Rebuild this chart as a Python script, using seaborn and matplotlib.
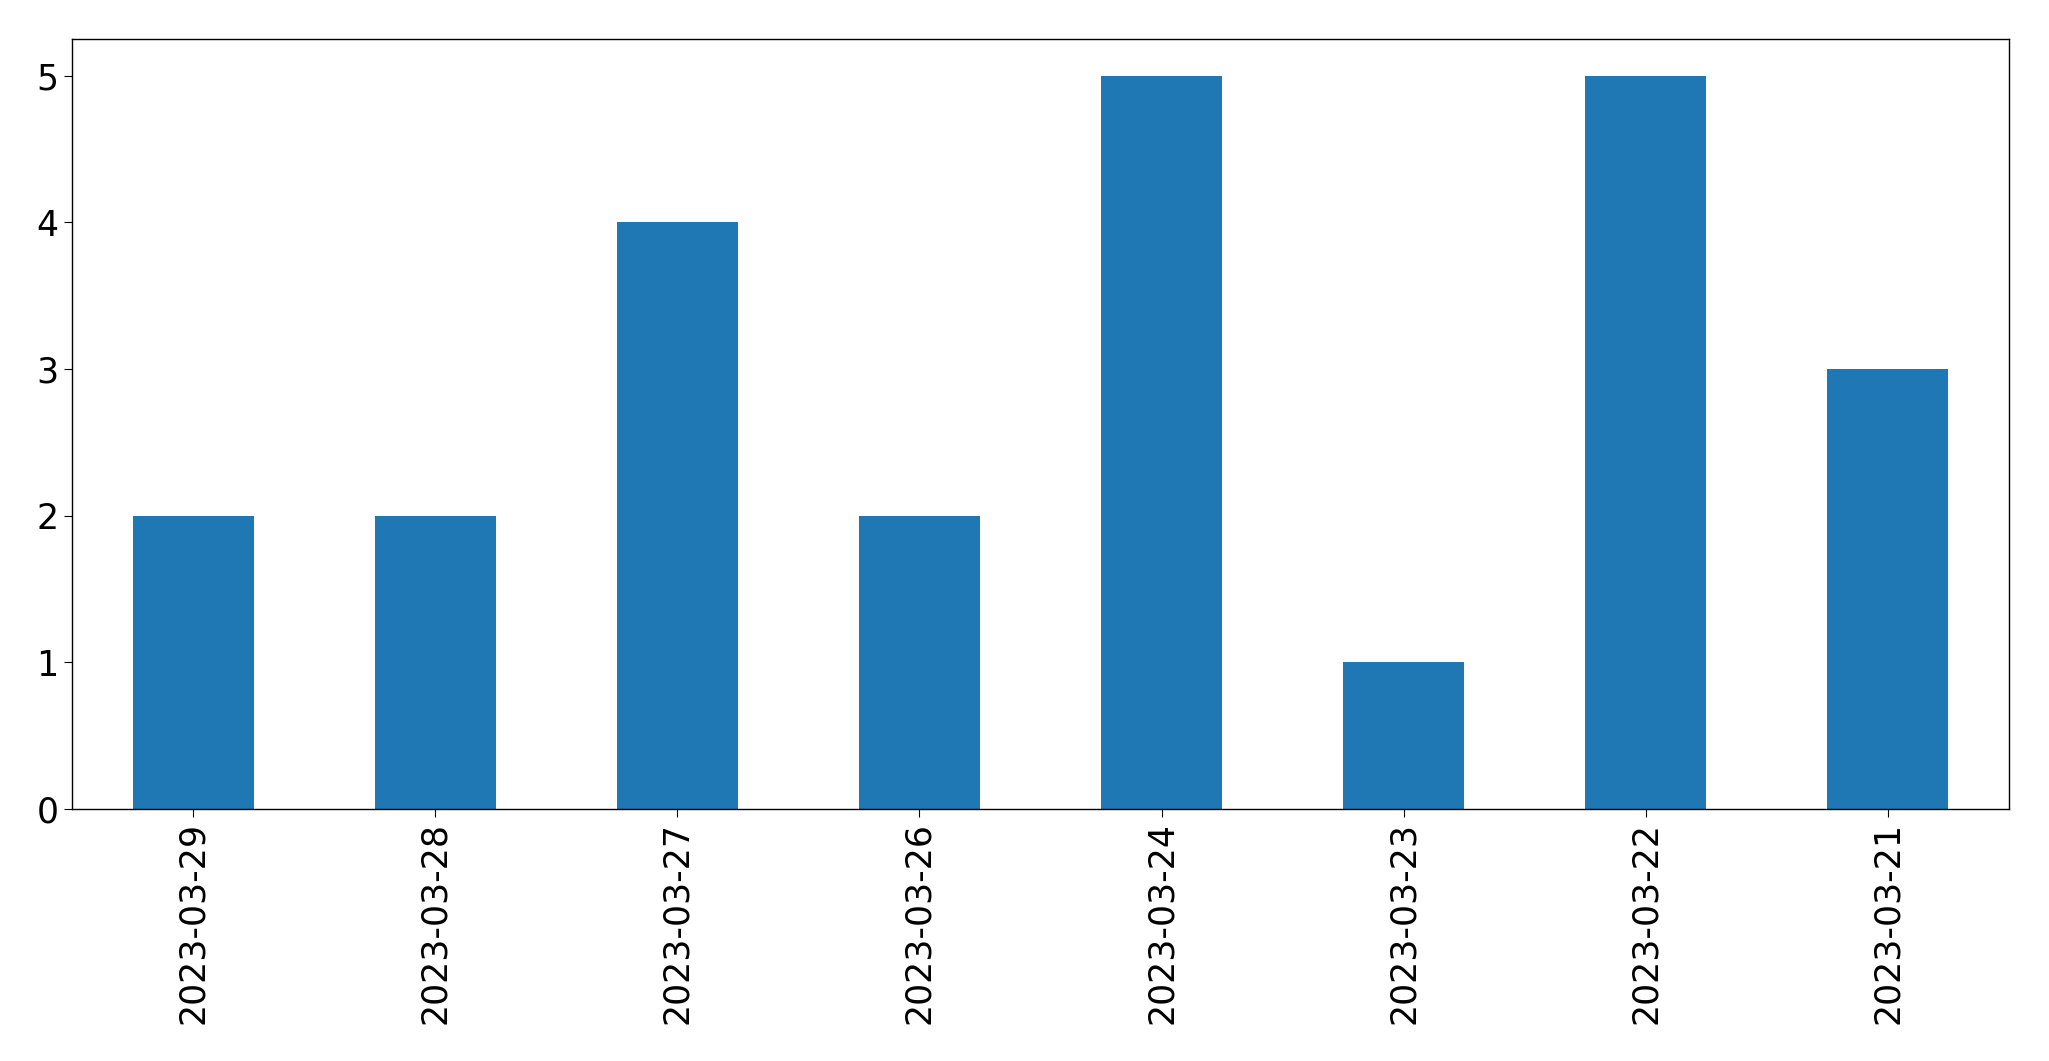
import pandas as pd
import matplotlib
matplotlib.use('Agg')
import matplotlib.pyplot as plt
import seaborn as sns

# ── Data ───────────────────────────────────────────────────
dates  = ['2023-03-29', '2023-03-28', '2023-03-27', '2023-03-26',
          '2023-03-24', '2023-03-23', '2023-03-22', '2023-03-21']
counts = [2, 2, 4, 2, 5, 1, 5, 3]

df = pd.DataFrame({'date': dates, 'count': counts})

# ── Plot ───────────────────────────────────────────────────
fig = plt.figure(figsize=(20.49, 10.61), dpi=100)
ax = fig.add_axes([72/2049, 1 - 809/1061, (2009-72)/2049, (809-39)/1061])

sns.barplot(data=df, x='date', y='count', color='#1f77b4', saturation=1,
            width=0.5, ax=ax)

ax.set_xlabel('')
ax.set_ylabel('')
ax.set_xlim(-0.5, len(dates) - 0.5)
ax.set_ylim(0, 5.25)
ax.tick_params(axis='x', rotation=90, labelsize=25, length=6)
ax.tick_params(axis='y', labelsize=25, length=6)
for s in ax.spines.values():
    s.set_visible(True)
    s.set_color('black')
    s.set_linewidth(1)

fig.savefig('out.png', dpi=100)
